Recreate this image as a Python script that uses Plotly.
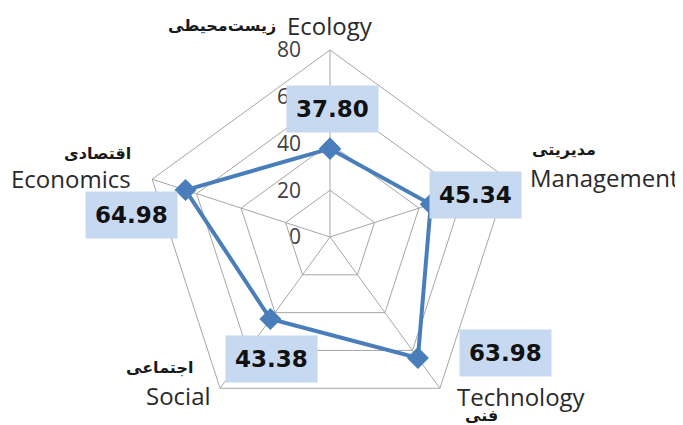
import plotly.graph_objects as go
import math

categories_en = ["Ecology", "Management", "Technology", "Social", "Economics"]
categories_fa = ["زیست‌محیطی", "مدیریتی", "فنی", "اجتماعی", "اقتصادی"]
values = [37.80, 45.34, 63.98, 43.38, 64.98]
radial_ticks = [0, 20, 40, 60, 80]
rmax = 80

# styling (pixel offsets for labels)
value_shift = [(2, 40), (45, 9), (88, 5), (1, -40), (-54, -25)]
en_layout = [("center", 0, 25), ("left", 20, 2), ("left", 15, -8), ("right", -7, -7), ("right", -19, 1)]
fa_layout = [("right", -52, 25), ("left", 22, 30), ("left", 23, -27), ("right", -25, 21), ("right", -19, 26)]

LINE = "#4A7EBB"
GRID = "#A6A6A6"
BOX = "#C6D9F1"

W, H = 683, 425
off = 8  # page offset of the figure in the browser
cx, cy, R = 330 - off, 237 - off, 187
dom_x = [(cx - R) / W, (cx + R) / W]
dom_y = [1 - (cy + R) / H, 1 - (cy - R) / H]

fig = go.Figure()
fig.add_trace(go.Scatterpolar(
    r=values + values[:1],
    theta=categories_en + categories_en[:1],
    mode="lines+markers",
    line=dict(color=LINE, width=4),
    marker=dict(symbol="diamond", size=17, color=LINE),
    showlegend=False,
))

# invisible cartesian overlay, used for radial tick labels and annotation anchoring
fig.add_trace(go.Scatter(x=[None], y=[None], showlegend=False, xaxis="x", yaxis="y"))

n = len(categories_en)
def xy(i, r):
    a = 2 * math.pi * i / n
    return r * math.sin(a), r * math.cos(a)

annotations = []
for i in range(n):
    px, py = xy(i, values[i])
    dx, dy = value_shift[i]
    annotations.append(dict(
        x=px, y=py, xref="x", yref="y", text=f"<b>{values[i]:.2f}</b>",
        showarrow=False, xshift=dx, yshift=dy, width=89, height=44,
        bgcolor=BOX, font=dict(family="DejaVu Sans", size=23, color="#111111"),
        xanchor="center", yanchor="middle",
    ))
    vx, vy = xy(i, rmax)
    anc, sx, sy = en_layout[i]
    annotations.append(dict(
        x=vx, y=vy, xref="x", yref="y", text=categories_en[i], showarrow=False,
        xshift=sx, yshift=sy, xanchor=anc, yanchor="middle",
        font=dict(family="Open Sans", size=24, color="#2a2a2a"),
    ))
    anc, sx, sy = fa_layout[i]
    annotations.append(dict(
        x=vx, y=vy, xref="x", yref="y", text=f"<b>{categories_fa[i]}</b>", showarrow=False,
        xshift=sx, yshift=sy, xanchor=anc, yanchor="middle",
        font=dict(family="DejaVu Sans", size=16, color="#1a1a1a"),
    ))

fig.update_layout(
    template="none",
    width=W, height=H, autosize=False,
    margin=dict(l=0, r=0, t=0, b=0, pad=0),
    paper_bgcolor="white", plot_bgcolor="rgba(0,0,0,0)",
    polar=dict(
        domain=dict(x=dom_x, y=dom_y),
        bgcolor="rgba(0,0,0,0)",
        gridshape="linear",
        radialaxis=dict(range=[0, rmax], tickvals=radial_ticks, showticklabels=False,
                        ticks="", showline=False, gridcolor=GRID, gridwidth=1),
        angularaxis=dict(rotation=90, direction="clockwise", showticklabels=False,
                         ticks="", showline=True, linecolor=GRID, linewidth=1,
                         gridcolor=GRID, gridwidth=1),
    ),
    xaxis=dict(domain=dom_x, range=[-rmax, rmax], visible=False, fixedrange=True,
               automargin=False),
    yaxis=dict(domain=dom_y, range=[-rmax, rmax], anchor="free", position=cx / W,
               tickvals=radial_ticks, showgrid=False, zeroline=False, showline=False,
               ticks="", ticklabelstandoff=29, automargin=False,
               tickfont=dict(family="Open Sans", size=21, color="#404040"),
               fixedrange=True),
    annotations=annotations,
)

fig.write_html("out.html")
